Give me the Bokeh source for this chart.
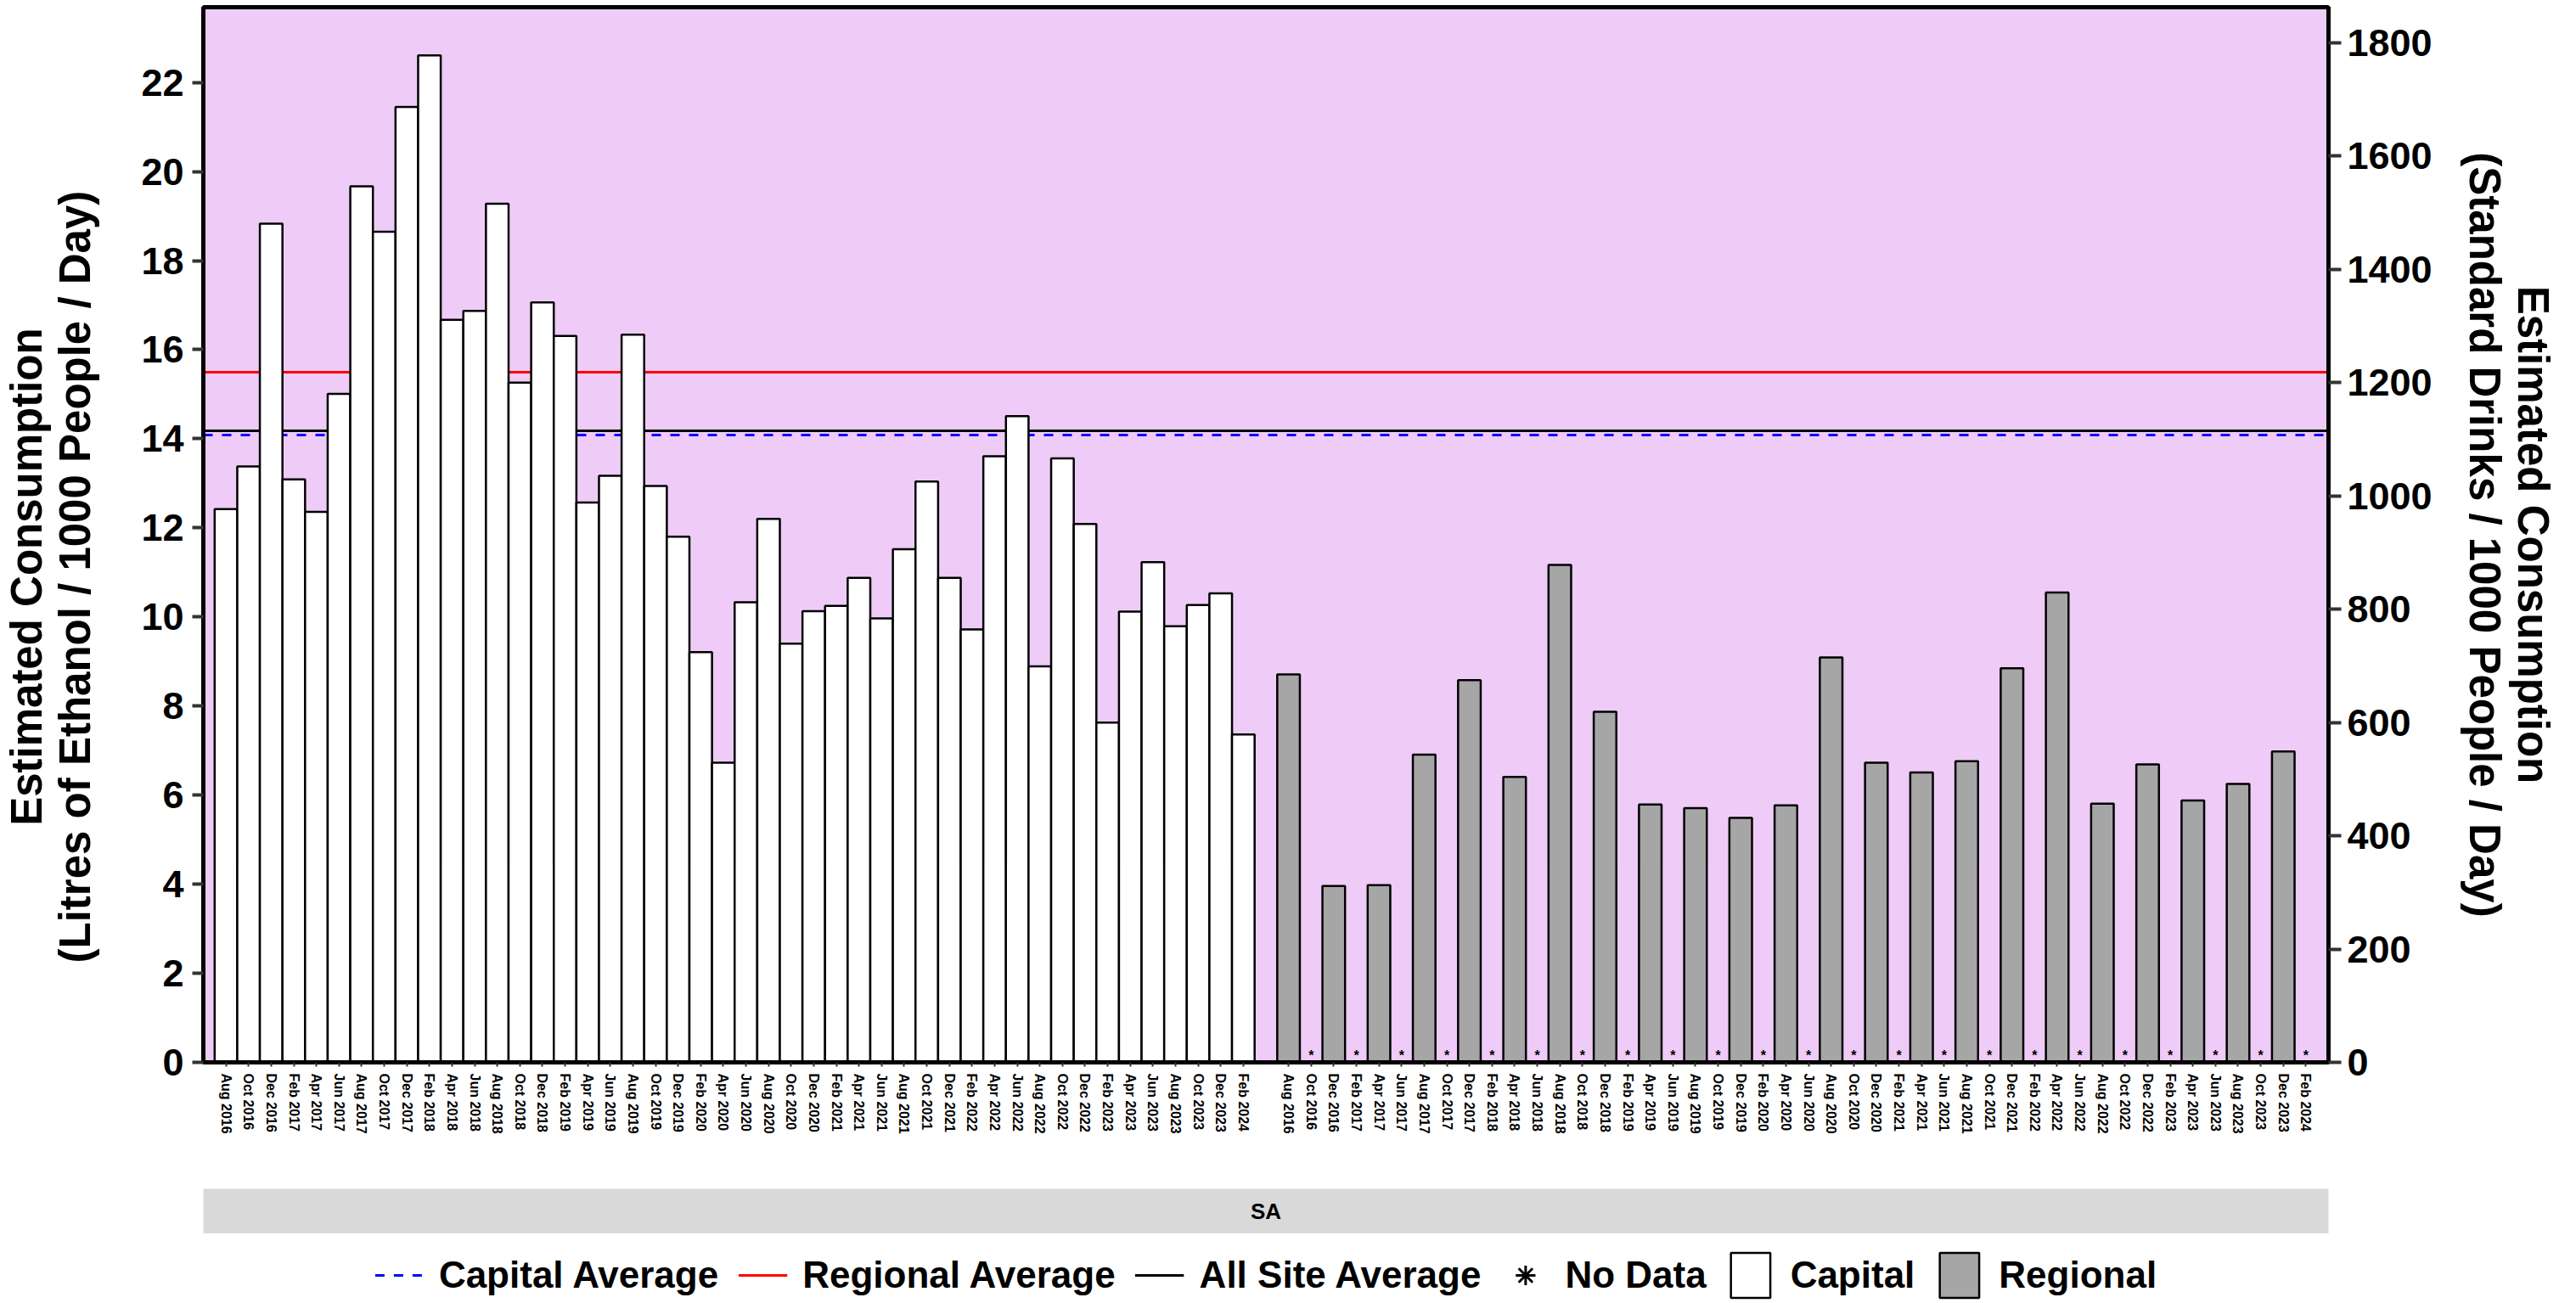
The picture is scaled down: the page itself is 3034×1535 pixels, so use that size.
from bokeh.plotting import figure
from bokeh.layouts import column
from bokeh.models import (Range1d, LinearAxis, FixedTicker, Legend, LegendItem,
                          ColumnDataSource)
from bokeh.core.properties import value
from bokeh.embed import file_html
from bokeh.resources import INLINE

# ---------------- data ----------------
months = ["Aug 2016", "Oct 2016", "Dec 2016",
          "Feb 2017", "Apr 2017", "Jun 2017", "Aug 2017", "Oct 2017", "Dec 2017",
          "Feb 2018", "Apr 2018", "Jun 2018", "Aug 2018", "Oct 2018", "Dec 2018",
          "Feb 2019", "Apr 2019", "Jun 2019", "Aug 2019", "Oct 2019", "Dec 2019",
          "Feb 2020", "Apr 2020", "Jun 2020", "Aug 2020", "Oct 2020", "Dec 2020",
          "Feb 2021", "Apr 2021", "Jun 2021", "Aug 2021", "Oct 2021", "Dec 2021",
          "Feb 2022", "Apr 2022", "Jun 2022", "Aug 2022", "Oct 2022", "Dec 2022",
          "Feb 2023", "Apr 2023", "Jun 2023", "Aug 2023", "Oct 2023", "Dec 2023",
          "Feb 2024"]

capital = [12.42, 13.38, 18.83, 13.09, 12.36, 15.01, 19.67, 18.65, 21.45, 22.61,
           16.67, 16.87, 19.28, 15.26, 17.06, 16.31, 12.57, 13.17, 16.34, 12.94,
           11.80, 9.21, 6.73, 10.33, 12.20, 9.40, 10.13, 10.25, 10.88, 9.97,
           11.52, 13.04, 10.88, 9.72, 13.61, 14.51, 8.89, 13.56, 12.09, 7.63,
           10.12, 11.23, 9.79, 10.27, 10.53, 7.36]

regional = [8.71, None, 3.96, None, 3.98, None, 6.91, None, 8.58, None,
            6.41, None, 11.17, None, 7.87, None, 5.79, None, 5.71, None,
            5.49, None, 5.77, None, 9.09, None, 6.73, None, 6.51, None,
            6.76, None, 8.85, None, 10.55, None, 5.81, None, 6.69, None,
            5.88, None, 6.25, None, 6.98, None]

capital_average = 14.09
regional_average = 15.50
all_site_average = 14.18

left_ticks = [0, 2, 4, 6, 8, 10, 12, 14, 16, 18, 20, 22]
right_ticks = [0, 200, 400, 600, 800, 1000, 1200, 1400, 1600, 1800]

site = "SA"

# ---------------- styling constants ----------------
FONT = "Liberation Sans"
PINK = "#EFCBF8"
GREY_BAR = "#A6A6A6"
STRIP = "#D9D9D9"
TICK_COL = "#333333"

W = 3026
H_MAIN, H_STRIP, H_LEG = 1400, 53, 82
B_L, B_R, B_T, B_B = 232, 284, 8, 149
Y_END = 23.69
DRINKS_END = 1863

n = len(months)
gap = 1
cap_x = list(range(n))
reg_x_all = [n + gap + i for i in range(n)]
X_START, X_END = -1, reg_x_all[-1] + 1

# ---------------- main chart ----------------
p = figure(width=W, height=H_MAIN, x_range=Range1d(X_START, X_END),
           y_range=Range1d(0, Y_END), output_backend="svg",
           toolbar_location=None, min_border_left=B_L, min_border_right=B_R,
           min_border_top=B_T, min_border_bottom=B_B)
p.extra_y_ranges = {"drinks": Range1d(0, DRINKS_END)}
p.background_fill_color = PINK
p.border_fill_color = "white"
p.outline_line_color = "black"
p.outline_line_width = 5
p.grid.visible = False

avg_src = ColumnDataSource(dict(cap=[capital_average], reg=[regional_average],
                                all=[all_site_average]))

# average lines (behind the bars)
cap_avg_style = dict(line_color="#0000FF", line_width=3, line_dash="11 11")
reg_avg_style = dict(line_color="#FF0000", line_width=3)
all_avg_style = dict(line_color="black", line_width=3)
p.hspan(y="cap", source=avg_src, **cap_avg_style)
p.hspan(y="reg", source=avg_src, **reg_avg_style)
p.hspan(y="all", source=avg_src, **all_avg_style)

# bars
cap_src = ColumnDataSource(dict(x=cap_x, top=capital))
reg_x = [x for x, v in zip(reg_x_all, regional) if v is not None]
reg_v = [v for v in regional if v is not None]
reg_src = ColumnDataSource(dict(x=reg_x, top=reg_v))
cap_style = dict(fill_color="white", line_color="black", line_width=2.5)
reg_style = dict(fill_color=GREY_BAR, line_color="black", line_width=2.5)
p.vbar(x="x", top="top", bottom=0, width=1, source=cap_src, **cap_style)
p.vbar(x="x", top="top", bottom=0, width=1, source=reg_src, **reg_style)

# no data markers
nd_x = [x for x, v in zip(reg_x_all, regional) if v is None]
nd_src = ColumnDataSource(dict(x=nd_x, y=[0] * len(nd_x), t=["*"] * len(nd_x)))
p.text(x="x", y="y", text="t", source=nd_src, text_font=value(FONT),
       text_font_size="16px", text_font_style="bold", text_color="black",
       text_align="center", text_baseline="bottom")

# ---------------- axes ----------------
xa = p.xaxis[0]
xa.ticker = FixedTicker(ticks=cap_x + reg_x_all)
xa.major_label_overrides = {x: m for x, m in zip(cap_x, months)} | \
                           {x: m for x, m in zip(reg_x_all, months)}
xa.major_label_orientation = "vertical"
xa.major_label_text_font = FONT
xa.major_label_text_font_size = "16px"
xa.major_label_text_font_style = "bold"
xa.major_label_text_color = "black"
xa.major_label_standoff = 8
xa.major_tick_out = 5
xa.major_tick_in = 0
xa.major_tick_line_width = 2
xa.major_tick_line_color = TICK_COL
xa.minor_tick_out = 0
xa.minor_tick_in = 0
xa.axis_line_width = 5
xa.axis_line_color = "black"


def style_y(ax, standoff_lbl, standoff_axis, tick_out):
    ax.major_label_text_font = FONT
    ax.major_label_text_font_size = "45px"
    ax.major_label_text_font_style = "bold"
    ax.major_label_text_color = "black"
    ax.major_label_standoff = standoff_lbl
    ax.major_tick_out = tick_out
    ax.major_tick_in = 0
    ax.major_tick_line_width = 4
    ax.major_tick_line_color = TICK_COL
    ax.minor_tick_out = 0
    ax.minor_tick_in = 0
    ax.axis_line_width = 5
    ax.axis_line_color = "black"
    ax.axis_label_text_font = FONT
    ax.axis_label_text_font_size = "51px"
    ax.axis_label_text_font_style = "bold"
    ax.axis_label_text_color = "black"
    ax.axis_label_text_line_height = 1.0
    ax.axis_label_standoff = standoff_axis


pad = "\u00a0" * 7   # nudges the left title slightly below the frame centre
ya = p.yaxis[0]
ya.ticker = FixedTicker(ticks=left_ticks)
ya.axis_label = ("Estimated Consumption" + pad + "\n"
                 "(Litres of Ethanol / 1000 People / Day)" + pad)
style_y(ya, 10, 46, 13)

yr = LinearAxis(y_range_name="drinks", ticker=FixedTicker(ticks=right_ticks),
                axis_label="Estimated Consumption\n(Standard Drinks / 1000 People / Day)")
style_y(yr, 7, 30, 15)
p.add_layout(yr, "right")

# ---------------- facet strip ----------------
s = figure(width=W, height=H_STRIP, x_range=Range1d(0, 1), y_range=Range1d(0, 1),
           output_backend="svg", toolbar_location=None,
           x_axis_location=None, y_axis_location=None,
           min_border_left=B_L, min_border_right=B_R,
           min_border_top=0, min_border_bottom=0)
s.background_fill_color = STRIP
s.border_fill_color = "white"
s.outline_line_color = None
s.grid.visible = False
s.text(x=[0.5], y=[0.5], text=[site], text_font=value(FONT),
       text_font_size="26px", text_font_style="bold", text_color="black",
       text_align="center", text_baseline="middle")

# ---------------- legend row ----------------
lg = figure(width=W, height=H_LEG, x_range=Range1d(X_START, X_END),
            y_range=Range1d(0, Y_END), output_backend="svg", toolbar_location=None,
            x_axis_location=None, y_axis_location=None,
            min_border_left=B_L, min_border_right=B_R,
            min_border_top=0, min_border_bottom=0)
lg.background_fill_color = "white"
lg.border_fill_color = "white"
lg.outline_line_color = None
lg.grid.visible = False
# legend keys reuse the series' sources and styles; they are hidden in this row
k_cap_avg = lg.hspan(y="cap", source=avg_src, visible=False, **cap_avg_style)
k_reg_avg = lg.hspan(y="reg", source=avg_src, visible=False, **reg_avg_style)
k_all_avg = lg.hspan(y="all", source=avg_src, visible=False, **all_avg_style)
k_nd = lg.scatter(x="x", y="y", source=nd_src, marker="asterisk", size=0,
                  line_color="black", line_width=3, visible=False)
k_cap = lg.vbar(x="x", top="top", bottom=0, width=1, source=cap_src,
                visible=False, **cap_style)
k_reg = lg.vbar(x="x", top="top", bottom=0, width=1, source=reg_src,
                visible=False, **reg_style)

legend = Legend(items=[
    LegendItem(label="Capital Average", renderers=[k_cap_avg]),
    LegendItem(label="Regional Average", renderers=[k_reg_avg]),
    LegendItem(label="All Site Average", renderers=[k_all_avg]),
    LegendItem(label="No Data", renderers=[k_nd]),
    LegendItem(label="Capital", renderers=[k_cap]),
    LegendItem(label="Regional", renderers=[k_reg]),
], orientation="horizontal", location="bottom_center", click_policy="none")
legend.label_text_font = FONT
legend.label_text_font_size = "44px"
legend.label_text_font_style = "bold"
legend.label_text_color = "black"
legend.glyph_width = 58
legend.glyph_height = 66
legend.label_standoff = 18
legend.spacing = 23
legend.padding = 0
legend.margin = 0
legend.border_line_color = None
legend.background_fill_alpha = 0
legend.inactive_fill_alpha = 0
lg.add_layout(legend)

layout = column(p, s, lg, spacing=0)
open("out.html", "w").write(file_html(layout, INLINE))
